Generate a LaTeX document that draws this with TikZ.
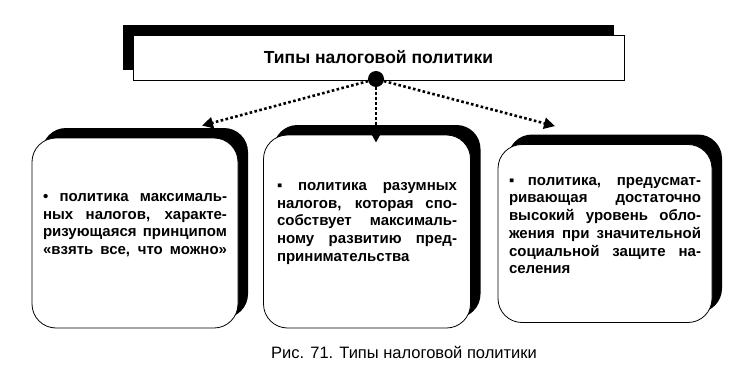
\documentclass[tikz,border=0pt]{standalone}
\usepackage{fontspec}
\setmainfont{Liberation Sans}
\usetikzlibrary{arrows.meta,shadows}
\newcommand{\jline}[1]{{\spaceskip=.3333em plus 2em\relax\makebox[\cardw][s]{#1}}}

\begin{document}
\begin{tikzpicture}[x=1pt,y=-1pt,
    card/.style={draw,line width=0.8pt,fill=white,rounded corners=24pt,
        drop shadow={shadow xshift=10pt,shadow yshift=10pt,fill=black,opacity=1}},
    cardtext/.style={text width=#1,align=left,inner sep=0pt,
        execute at begin node={\def\cardw{#1}},
        font=\fontsize{15}{17.7}\selectfont\bfseries},
    link/.style={line width=2.6pt,dash pattern=on 2.6pt off 2.4pt,
        -{Triangle[length=11pt,width=11pt]}}]
    \useasboundingbox (0,0) rectangle (756,375);
    % title and hub
    \node[draw,line width=0.8pt,fill=white,minimum width=491pt,minimum height=45pt,
        drop shadow={shadow xshift=-10pt,shadow yshift=10pt,fill=black,opacity=1},
        font=\fontsize{17.5}{20}\selectfont\bfseries] (title) at (378.5,57.5) {Типы налоговой политики};
    \node[circle,fill,inner sep=0pt,minimum size=16pt] (hub) at (376,79) {};
    % the three types
    \node[card,minimum width=206pt,minimum height=190pt] (maxtax) at (135,233) {};
    \node[card,minimum width=207pt,minimum height=193pt] (midtax) at (367,231.5) {};
    \node[card,minimum width=214pt,minimum height=178pt] (soctax) at (605,233.5) {};
    \node[cardtext=184pt] (maxtxt) at ([yshift=8pt]maxtax.center) {%
        \jline{• политика максималь-}\\
        \jline{ных налогов, характе-}\\
        \jline{ризующаяся принципом}\\
        \jline{«взять все, что можно»}};
    \node[cardtext=180pt] (midtxt) at ([yshift=8pt]midtax.center) {%
        \jline{▪ политика разумных}\\
        \jline{налогов, которая спо-}\\
        \jline{собствует максималь-}\\
        \jline{ному развитию пред-}\\
        принимательства};
    \node[cardtext=192pt] (soctxt) at ([yshift=8pt]soctax.center) {%
        \jline{▪ политика, предусмат-}\\
        \jline{ривающая достаточно}\\
        \jline{высокий уровень обло-}\\
        \jline{жения при значительной}\\
        \jline{социальной защите на-}\\
        селения};
    % connectors
    \draw[link] (hub) -- ([xshift=67pt,yshift=12pt]maxtax.north);
    \draw[link] (hub) -- ([xshift=9pt,yshift=-8pt]midtax.north);
    \draw[link] (hub) -- ([xshift=-50pt,yshift=18pt]soctax.north);
    % caption
    \node[font=\fontsize{16.5}{19}\selectfont] (caption) at (404,352) {Рис. 71. Типы налоговой политики};
\end{tikzpicture}
\end{document}
